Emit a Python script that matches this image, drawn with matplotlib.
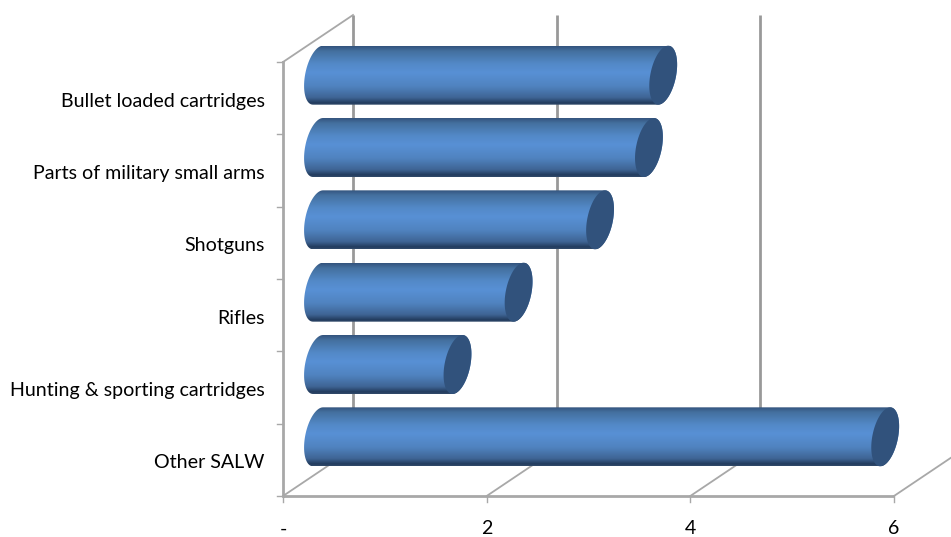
import numpy as np
import matplotlib
matplotlib.use("Agg")
import matplotlib.pyplot as plt
from matplotlib.colors import LinearSegmentedColormap
from matplotlib.patches import Polygon

plt.rcParams["font.family"] = "Lato"

categories = ["Bullet loaded cartridges", "Parts of military small arms", "Shotguns",
              "Rifles", "Hunting & sporting cartridges", "Other SALW"]
values = [3.39, 3.25, 2.77, 1.97, 1.37, 5.57]
x_ticks = [0, 2, 4, 6]
x_tick_labels = ["-", "2", "4", "6"]

# figure pixels per data unit, the axes fills the whole figure
W, H = 951, 537
PX_X = 101.83
PX_Y = 72.33
X0_PX = 283
Y0_PX = 496

# oblique depth of the box, in data units
DEPTH_X = 70 / PX_X
DEPTH_Y = 47 / PX_Y
BAR_H = 59 / PX_Y
BAR_DROP = 0.5 / PX_Y
CAP_W = 13 / PX_X
CAP_SHEAR = 5 / PX_X

GRID = "#999999"
AXIS = "#a8a8a8"
CAP = "#31527c"
shade = LinearSegmentedColormap.from_list("cyl", [
    (0.0, "#34557f"), (0.08, "#44709f"), (0.3, "#5389c8"), (0.45, "#5890d5"),
    (0.68, "#5083c0"), (0.88, "#3f6595"), (0.97, "#233c5e"), (1.0, "#2f4868")])


def ellipse_pts(cx, cy, t):
    # cylinder end, leaning to the right at the top
    x = cx + CAP_W * np.cos(t) + CAP_SHEAR * np.sin(t)
    y = cy + BAR_H / 2 * np.sin(t)
    return np.column_stack([x, y])


def draw_cylinder(ax, value, y):
    start = DEPTH_X / 2
    end = value + DEPTH_X / 2
    cy = y + DEPTH_Y / 2 - BAR_DROP
    left = ellipse_pts(start, cy, np.linspace(np.pi / 2, 3 * np.pi / 2, 40))
    right = ellipse_pts(end, cy, np.linspace(3 * np.pi / 2, 5 * np.pi / 2, 40))
    body = Polygon(np.vstack([left, right]), closed=True, fc="none", ec="none", zorder=3)
    ax.add_patch(body)
    grad = np.linspace(0, 1, 64).reshape(-1, 1)
    im = ax.imshow(grad, cmap=shade, aspect="auto", interpolation="bilinear", zorder=3,
                   extent=(start - 0.3, end + 0.3, cy - BAR_H / 2, cy + BAR_H / 2), origin="upper")
    im.set_clip_path(body)
    cap = ellipse_pts(end, cy, np.linspace(0, 2 * np.pi, 80))
    ax.add_patch(Polygon(cap, closed=True, fc=CAP, ec="none", zorder=4))


fig = plt.figure(figsize=(W / 100, H / 100), dpi=100)
ax = fig.add_axes([0, 0, 1, 1])
xlim = (-X0_PX / PX_X, (W - X0_PX) / PX_X)
ylim = (-(H - Y0_PX) / PX_Y, Y0_PX / PX_Y)

n = len(categories)

# back wall gridlines
for t in x_ticks:
    ax.plot([t + DEPTH_X] * 2, [DEPTH_Y, n + DEPTH_Y], color=GRID, lw=2.0, zorder=1,
            solid_capstyle="butt")

# floor lines running back from the value ticks, and the top edge of the side wall
for t in x_ticks:
    ax.plot([t, t + DEPTH_X], [0, DEPTH_Y], color=AXIS, lw=1.3, zorder=1)
ax.plot([0, DEPTH_X], [n, n + DEPTH_Y], color=AXIS, lw=1.3, zorder=1)

# front axes and tick marks
ax.plot([0, 0], [0, n], color=AXIS, lw=2.0, zorder=2, solid_capstyle="projecting")
ax.plot([0, x_ticks[-1]], [0, 0], color=AXIS, lw=2.0, zorder=2, solid_capstyle="butt")
for i in range(n + 1):
    ax.plot([-6 / PX_X, 0], [i, i], color=AXIS, lw=1.0, zorder=2)
for t in x_ticks:
    ax.plot([t, t], [-6 / PX_Y, 0], color=AXIS, lw=1.0, zorder=2)

for i, (name, val) in enumerate(zip(categories, values)):
    y = n - 1 - i + 0.5
    draw_cylinder(ax, val, y)
    ax.text(-18 / PX_X, y - 3 / PX_Y, name, ha="right", va="center", fontsize=14.1, color="#000000")

for t, lab in zip(x_ticks, x_tick_labels):
    ax.text(t, -33 / PX_Y, lab, ha="center", va="center", fontsize=14.1, color="#000000")

ax.set_xlim(xlim)
ax.set_ylim(ylim)
ax.axis("off")

fig.savefig("out.png", dpi=100, facecolor="white")
plt.close(fig)
